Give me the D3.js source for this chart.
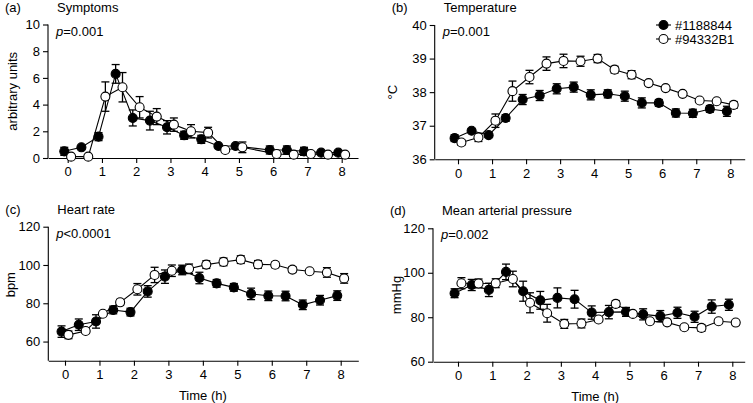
<!DOCTYPE html>
<html>
<head>
<meta charset="utf-8">
<script src="https://cdn.jsdelivr.net/npm/d3@7"></script>
<style>
  body { margin: 0; background: #fff; }
  text { font-family: "Liberation Sans", Arial, sans-serif; fill: #000; }
</style>
</head>
<body>
<div id="chart"></div>
<script>
// sample times (h), filled series sits just left of the open one
var timesFilled = [-0.1, 0.4, 0.9, 1.4, 1.9, 2.4, 2.9, 3.4, 3.9, 4.4, 4.9, 5.4, 5.9, 6.4, 6.9, 7.4, 7.9];
var timesOpen = [0.1, 0.6, 1.1, 1.6, 2.1, 2.6, 3.1, 3.6, 4.1, 4.6, 5.1, 5.6, 6.1, 6.6, 7.1, 7.6, 8.1];
// symptoms has no 5.5 h sample
var symTimesFilled = [-0.1, 0.4, 0.9, 1.4, 1.9, 2.4, 2.9, 3.4, 3.9, 4.4, 4.9, 5.9, 6.4, 6.9, 7.4, 7.9];
var symTimesOpen = [0.1, 0.6, 1.1, 1.6, 2.1, 2.6, 3.1, 3.6, 4.1, 4.6, 5.1, 6.1, 6.6, 7.1, 7.6, 8.1];

var seriesNames = ["#1188844", "#94332B1"];
var xTicks = [0, 1, 2, 3, 4, 5, 6, 7, 8];

// (a) symptoms
var symFilled = [0.5, 0.8, 1.6, 6.3, 3.0, 2.8, 2.3, 1.7, 1.4, 0.9, 0.9, 0.6, 0.6, 0.5, 0.4, 0.4];
var symFilledErr = [0.3, 0.1, 0.3, 0.7, 0.6, 0.7, 0.5, 0.3, 0.3, 0.1, 0.1, 0.3, 0.3, 0.3, 0.1, 0.1];
var symOpen = [0.1, 0.1, 4.6, 5.3, 3.8, 3.1, 2.5, 2.0, 1.9, 0.6, 0.8, 0.3, 0.25, 0.3, 0.25, 0.25];
var symOpenErr = [0.1, 0.1, 1.1, 1.1, 0.8, 0.6, 0.5, 0.5, 0.4, 0.1, 0.4, 0.1, 0.1, 0.1, 0.1, 0.1];
var symTicks = [0, 2, 4, 6, 8, 10];

// (b) temperature
var tempFilled = [36.63, 36.85, 36.72, 37.23, 37.78, 37.9, 38.1, 38.15, 37.92, 37.95, 37.88, 37.68, 37.68, 37.38, 37.37, 37.5, 37.43];
var tempFilledErr = [0.1, 0.05, 0.05, 0.1, 0.15, 0.15, 0.15, 0.15, 0.15, 0.12, 0.15, 0.15, 0.1, 0.12, 0.12, 0.1, 0.15];
var tempOpen = [36.5, 36.65, 37.15, 38.03, 38.45, 38.85, 38.93, 38.92, 39.0, 38.67, 38.52, 38.27, 38.12, 37.95, 37.75, 37.73, 37.62];
var tempOpenErr = [0.08, 0.12, 0.2, 0.3, 0.2, 0.2, 0.2, 0.15, 0.12, 0.1, 0.12, 0.05, 0.05, 0.05, 0.05, 0.05, 0.1];
var tempTicks = [36, 37, 38, 39, 40];

// (c) heart rate
var hrFilled = [65.2, 68.8, 70.5, 76.5, 75.4, 86.2, 93.9, 97.4, 93.2, 90.4, 88.3, 84.9, 83.9, 83.8, 79.2, 81.6, 84.0];
var hrFilledErr = [3, 3, 3.5, 2, 2, 3, 3.5, 2.5, 3, 2, 2, 3, 2.5, 2.5, 2.5, 2.5, 2.5];
var hrOpen = [63.5, 65.5, 74.5, 80.5, 87.3, 94.8, 97.0, 98.0, 100.2, 101.6, 102.8, 100.3, 100.1, 97.6, 96.7, 96.1, 93.0];
var hrOpenErr = [2, 1, 1, 1.5, 3, 4, 3, 2.5, 2, 2, 2, 2, 1.5, 1.5, 1, 2.5, 2.5];
var hrTicks = [60, 80, 100, 120];

// (d) mean arterial pressure
var mapFilled = [90.8, 94.5, 92.3, 100.4, 91.7, 87.6, 88.7, 88.1, 82.1, 82.3, 82.4, 81.3, 80.5, 82.0, 80.2, 84.8, 85.6];
var mapFilledErr = [2, 2.5, 3, 3.5, 4.5, 4, 4.5, 4, 3, 3, 2, 2.5, 2.5, 2.5, 2.5, 3, 2.5];
var mapOpen = [95.3, 95.2, 95.3, 97.2, 86.5, 81.8, 77.0, 77.2, 79.0, 86.0, 81.5, 78.2, 77.7, 75.5, 75.2, 78.2, 77.6];
var mapOpenErr = [2.5, 2, 2, 3.5, 4.5, 4, 2, 2, 1, 1.5, 1, 1, 1, 1, 1.5, 1, 1];
var mapTicks = [60, 80, 100, 120];

var W = 753, H = 403;

var panels = [
  {tag: "(a)", title: "Symptoms", ylab: "arbitrary units", p: "=0.001",
   left: 48, right: 358, top: 24.5, bottom: 158, x0: 67.7, x8: 341.7,
   yDom: [0, 10], yTicks: symTicks, yLabX: 12, xTitle: false,
   filled: {t: symTimesFilled, v: symFilled, e: symFilledErr},
   open: {t: symTimesOpen, v: symOpen, e: symOpenErr}},
  {tag: "(b)", title: "Temperature", ylab: "\u00B0C", p: "=0.001",
   left: 434.7, right: 744.7, top: 25, bottom: 159.3, x0: 458, x8: 730.3,
   yDom: [36, 40], yTicks: tempTicks, yLabX: 392, xTitle: false, legend: true,
   filled: {t: timesFilled, v: tempFilled, e: tempFilledErr},
   open: {t: timesOpen, v: tempOpen, e: tempOpenErr}},
  {tag: "(c)", title: "Heart rate", ylab: "bpm", p: "<0.0001",
   left: 48.3, right: 358.3, top: 226.7, bottom: 360.7, x0: 65, x8: 340.7,
   yDom: [50, 120], yTicks: hrTicks, yLabX: 10, xTitle: true,
   filled: {t: timesFilled, v: hrFilled, e: hrFilledErr},
   open: {t: timesOpen, v: hrOpen, e: hrOpenErr}},
  {tag: "(d)", title: "Mean arterial pressure", ylab: "mmHg", p: "=0.002",
   left: 433, right: 744.7, top: 228.3, bottom: 361.7, x0: 458, x8: 732.3,
   yDom: [60, 120], yTicks: mapTicks, yLabX: 396, xTitle: true,
   filled: {t: timesFilled, v: mapFilled, e: mapFilledErr},
   open: {t: timesOpen, v: mapOpen, e: mapOpenErr}}
];

var svg = d3.select("#chart").append("svg")
    .attr("width", W)
    .attr("height", H);

panels.forEach(function(p) {
  var g = svg.append("g");

  // x scale: ticks 0..8 fixed at x0..x8, then stretched out to the axis ends
  var x0s = d3.scaleLinear().domain([0, 8]).range([p.x0, p.x8]);
  var x = d3.scaleLinear().domain([x0s.invert(p.left), x0s.invert(p.right)]).range([p.left, p.right]);
  var y = d3.scaleLinear().domain(p.yDom).range([p.bottom, p.top]);
  var yTop = y(p.yTicks[p.yTicks.length - 1]);

  // axes
  var xAxis = g.append("g")
      .attr("transform", `translate(0, ${p.bottom})`)
      .call(d3.axisBottom(x).tickValues(xTicks).tickFormat(d3.format("d"))
          .tickSize(5).tickSizeOuter(0).tickPadding(4));
  var yAxis = g.append("g")
      .attr("transform", `translate(${p.left}, 0)`)
      .call(d3.axisLeft(y).tickValues(p.yTicks).tickFormat(d3.format("d"))
          .tickSize(5).tickSizeOuter(0).tickPadding(3));
  [xAxis, yAxis].forEach(function(a) {
    a.attr("font-size", null).attr("font-family", null);
    a.selectAll("text").style("font-size", "13px").attr("fill", "#000");
    a.selectAll("line,path").attr("stroke", "#000").attr("stroke-width", 1.1);
  });
  yAxis.select("path.domain").attr("d", `M0,${p.bottom}V${yTop}`);

  // labels
  g.append("text").attr("x", p.left - 43).attr("y", p.top - 13)
      .style("font-size", "13px").text(p.tag);
  g.append("text").attr("x", p.left + 9).attr("y", p.top - 13)
      .style("font-size", "13px").text(p.title);
  var pt = g.append("text").attr("x", p.left + 8).attr("y", p.top + 11)
      .style("font-size", "13px");
  pt.append("tspan").style("font-style", "italic").text("p");
  pt.append("tspan").text(p.p);

  g.append("text")
      .attr("transform", `translate(${p.yLabX}, ${(p.bottom + yTop) / 2 + (p.yDom[0] < p.yTicks[0] ? -9 : 0)}) rotate(-90)`)
      .attr("dy", "0.35em")
      .style("text-anchor", "middle")
      .style("font-size", "13px")
      .text(p.ylab);

  if (p.xTitle) {
    g.append("text")
        .attr("x", (p.x0 + p.x8) / 2)
        .attr("y", p.bottom + 39)
        .style("text-anchor", "middle")
        .style("font-size", "13px")
        .text("Time (h)");
  }

  // series: filled first, open on top
  [["filled", "#000"], ["open", "#fff"]].forEach(function(s) {
    var d = p[s[0]];
    var pts = d.t.map(function(t, i) { return {t: t, v: d.v[i], e: d.e[i]}; });
    var sg = g.append("g");

    var eb = sg.selectAll("g.err").data(pts).enter().append("g").attr("class", "err")
        .attr("stroke", "#000").attr("stroke-width", 1.3);
    eb.append("line")
        .attr("x1", q => x(q.t)).attr("x2", q => x(q.t))
        .attr("y1", q => y(q.v - q.e)).attr("y2", q => y(q.v + q.e));
    eb.append("line")
        .attr("x1", q => x(q.t) - 4).attr("x2", q => x(q.t) + 4)
        .attr("y1", q => y(q.v + q.e)).attr("y2", q => y(q.v + q.e));
    eb.append("line")
        .attr("x1", q => x(q.t) - 4).attr("x2", q => x(q.t) + 4)
        .attr("y1", q => y(q.v - q.e)).attr("y2", q => y(q.v - q.e));

    sg.append("path")
        .datum(pts)
        .attr("fill", "none")
        .attr("stroke", "#000")
        .attr("stroke-width", 1.1)
        .attr("d", d3.line().x(q => x(q.t)).y(q => y(q.v)));

    sg.selectAll("circle").data(pts).enter().append("circle")
        .attr("cx", q => x(q.t))
        .attr("cy", q => y(q.v))
        .attr("r", 4.5)
        .attr("fill", s[1])
        .attr("stroke", "#000")
        .attr("stroke-width", 1.1);
  });

  if (p.legend) {
    var lg = g.append("g");
    seriesNames.forEach(function(name, i) {
      var ly = 25 + i * 14;
      lg.append("line").attr("x1", 656).attr("x2", 671).attr("y1", ly).attr("y2", ly)
          .attr("stroke", "#000").attr("stroke-width", 1.1);
      lg.append("circle").attr("cx", 663.5).attr("cy", ly).attr("r", 4.5)
          .attr("fill", i === 0 ? "#000" : "#fff").attr("stroke", "#000").attr("stroke-width", 1.1);
      lg.append("text").attr("x", 675).attr("y", ly).attr("dy", "0.35em")
          .style("font-size", "13px").text(name);
    });
  }
});
</script>
</body>
</html>
